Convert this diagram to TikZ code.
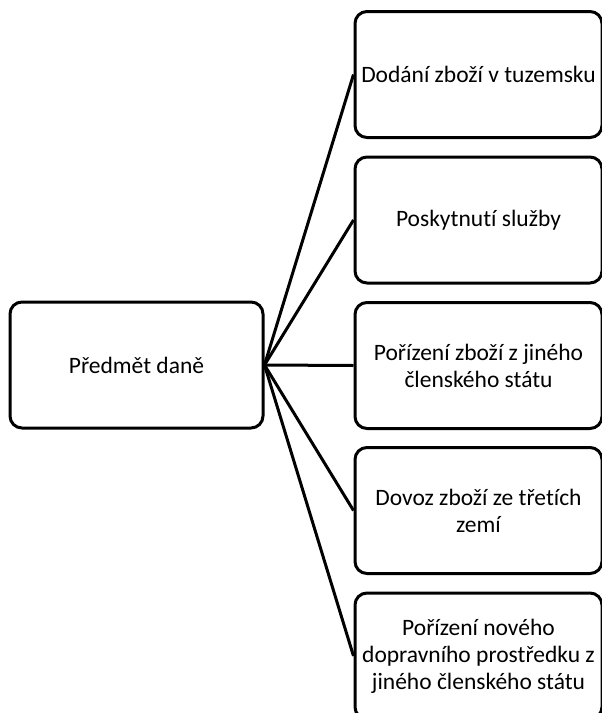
\documentclass[tikz,border=0pt]{standalone}
\usepackage{fontspec}
\setmainfont[Ligatures=NoCommon]{Carlito}
\begin{document}
\begin{tikzpicture}[x=1pt,y=-1pt,
  box/.style={draw=black, line width=3pt, rounded corners=12pt, fill=white,
    align=center, font=\fontsize{23.5}{27}\selectfont, inner sep=0pt},
  leftbox/.style={box, minimum width=253pt, minimum height=126pt},
  rightbox/.style={box, minimum width=247pt, minimum height=126pt},
  link/.style={draw=black, line width=3pt}]
  \useasboundingbox (0,0) rectangle (602,713);
  \begin{scope}
    \clip (0,0) rectangle (602,713);
    \node[leftbox] (root) at (136.5,365) {Předmět daně};
    \node[rightbox] (b1) at (478.5,74.5) {Dodání zboží v tuzemsku};
    \node[rightbox] (b2) at (478.5,220) {Poskytnutí služby};
    \node[rightbox] (b3) at (478.5,365.5) {Pořízení zboží z jiného\\členského státu};
    \node[rightbox] (b4) at (478.5,510.5) {Dovoz zboží ze třetích\\zemí};
    \node[rightbox] (b5) at (478.5,656) {Pořízení nového\\dopravního prostředku z\\jiného členského státu};
    \foreach \t in {b1,b2,b3,b4,b5}
      \draw[link] (root.east) -- (\t.west);
  \end{scope}
\end{tikzpicture}
\end{document}
